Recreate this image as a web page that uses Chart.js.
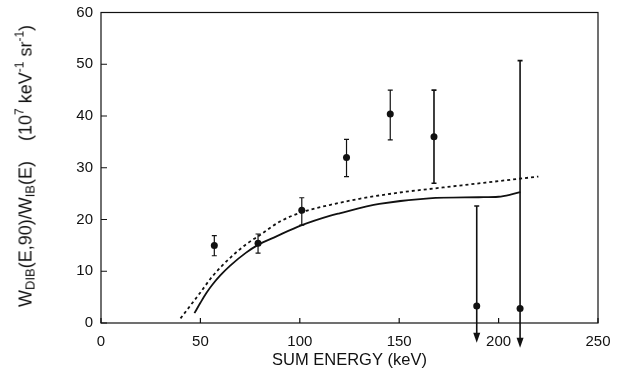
<!DOCTYPE html>
<html>
<head>
<meta charset="utf-8">
<script src="https://cdn.jsdelivr.net/npm/chart.js@4"></script>
<style>
  body { margin: 0; background: #fff; }
  #wrap { position: relative; width: 620px; height: 375px; }
  #ytitle {
    position: absolute; left: 25px; top: 166px;
    transform: translate(-50%, -50%) rotate(-90deg);
    white-space: nowrap; font-family: "Liberation Sans", Arial, sans-serif;
    font-size: 18px; color: #111;
  }
  #ytitle sub { font-size: 13px; vertical-align: -3px; }
  #ytitle sup { font-size: 12px; vertical-align: 8px; }
</style>
</head>
<body>
<div id="wrap">
  <canvas id="chart" width="620" height="375"></canvas>
  <div id="ytitle">W<sub>DIB</sub>(E,90)/W<sub>IB</sub>(E)&nbsp;&nbsp;&nbsp;&nbsp;(10<sup>7</sup> keV<sup>-1</sup> sr<sup>-1</sup>)</div>
</div>
<script>
// measured points (sum energy in keV, ratio in 1e7 keV^-1 sr^-1)
const energy = [57, 79, 101, 123.5, 145.5, 167.5, 189, 210.8];
const ratio = [15.0, 15.4, 21.8, 32.0, 40.4, 36.0, 3.3, 2.8];
const errHigh = [16.9, 17.2, 24.2, 35.5, 45.0, 45.0, 22.6, 50.7];
const errLow = [13.0, 13.5, 18.9, 28.3, 35.4, 27.0, -3.8, -4.8];
const upperLimit = [false, false, false, false, false, false, true, true];

// dotted theory curve
const dottedE = [40, 45, 50, 56, 65, 73, 80, 90, 101, 115, 130, 150, 170, 195, 220];
const dottedW = [0.9, 3.4, 5.9, 9.0, 12.6, 15.2, 17.0, 19.6, 21.4, 22.8, 24.0, 25.2, 26.1, 27.2, 28.3];

// solid theory curve
const solidE = [47, 50, 53, 56, 60, 65, 73, 79, 88, 101, 115, 120, 140, 165, 190, 200, 206, 211];
const solidW = [1.9, 3.9, 5.8, 7.4, 9.2, 11.1, 13.6, 15.1, 16.7, 18.9, 20.7, 21.2, 23.0, 24.1, 24.3, 24.4, 24.8, 25.3];

const xTicks = [0, 50, 100, 150, 200, 250];
const yTicks = [0, 10, 20, 30, 40, 50, 60];

const ink = "#111";
const font = "'Liberation Sans', Arial, sans-serif";

const toXY = (xs, ys) => xs.map((x, i) => ({ x: x, y: ys[i] }));

// frame, inward ticks and error bars
const extras = {
  id: "extras",
  beforeDatasetsDraw(chart) {
    const { ctx, chartArea: a, scales: { x, y } } = chart;
    ctx.save();
    ctx.strokeStyle = ink;
    ctx.lineWidth = 1.2;
    ctx.strokeRect(a.left, a.top, a.right - a.left, a.bottom - a.top);
    ctx.beginPath();
    xTicks.forEach(t => {
      const px = x.getPixelForValue(t);
      ctx.moveTo(px, a.bottom); ctx.lineTo(px, a.bottom - 5);
    });
    yTicks.forEach(t => {
      const py = y.getPixelForValue(t);
      ctx.moveTo(a.left, py); ctx.lineTo(a.left + 6, py);
    });
    ctx.stroke();

    ctx.fillStyle = ink;
    energy.forEach((e, i) => {
      const px = x.getPixelForValue(e);
      const top = y.getPixelForValue(errHigh[i]);
      const bot = y.getPixelForValue(errLow[i]);
      ctx.lineWidth = upperLimit[i] || i == 5 ? 1.6 : 1.2;
      ctx.beginPath();
      ctx.moveTo(px, top);
      ctx.lineTo(px, upperLimit[i] ? bot - 8 : bot);
      ctx.moveTo(px - 2.5, top); ctx.lineTo(px + 2.5, top);
      if (!upperLimit[i]) { ctx.moveTo(px - 2.5, bot); ctx.lineTo(px + 2.5, bot); }
      ctx.stroke();
      if (upperLimit[i]) {
        ctx.beginPath();
        ctx.moveTo(px - 3.5, bot - 10);
        ctx.lineTo(px + 3.5, bot - 10);
        ctx.lineTo(px, bot);
        ctx.closePath();
        ctx.fill();
      }
    });
    ctx.restore();
  }
};

new Chart(document.getElementById("chart"), {
  type: "scatter",
  data: {
    datasets: [
      {
        data: toXY(dottedE, dottedW),
        showLine: true,
        borderColor: ink,
        borderWidth: 1.8,
        borderDash: [3, 3],
        pointRadius: 0,
        cubicInterpolationMode: "monotone"
      },
      {
        data: toXY(solidE, solidW),
        showLine: true,
        borderColor: ink,
        borderWidth: 1.8,
        pointRadius: 0,
        cubicInterpolationMode: "monotone"
      },
      {
        data: toXY(energy, ratio),
        pointRadius: 3.5,
        pointBackgroundColor: ink,
        pointBorderColor: ink,
        borderWidth: 0
      }
    ]
  },
  options: {
    responsive: false,
    animation: false,
    layout: { padding: { left: 0, right: 22, top: 12.5, bottom: 0 } },
    plugins: { legend: { display: false }, tooltip: { enabled: false } },
    scales: {
      x: {
        type: "linear", min: 0, max: 250,
        afterBuildTicks: s => { s.ticks = xTicks.map(v => ({ value: v })); },
        afterFit: s => { s.height = 52; s.paddingLeft = 0; s.paddingRight = 0; },
        grid: { display: false, drawTicks: false },
        border: { display: false },
        ticks: { color: ink, font: { family: font, size: 15 }, padding: 10 },
        title: {
          display: true, text: "SUM ENERGY (keV)", color: ink,
          font: { family: font, size: 16.5 }, padding: { top: 2, bottom: 5 }
        }
      },
      y: {
        min: 0, max: 60,
        afterBuildTicks: s => { s.ticks = yTicks.map(v => ({ value: v })); },
        afterFit: s => { s.width = 101; s.paddingTop = 0; s.paddingBottom = 0; },
        grid: { display: false, drawTicks: false },
        border: { display: false },
        ticks: { color: ink, font: { family: font, size: 15 }, padding: 8 }
      }
    }
  },
  plugins: [extras]
});
</script>
</body>
</html>
